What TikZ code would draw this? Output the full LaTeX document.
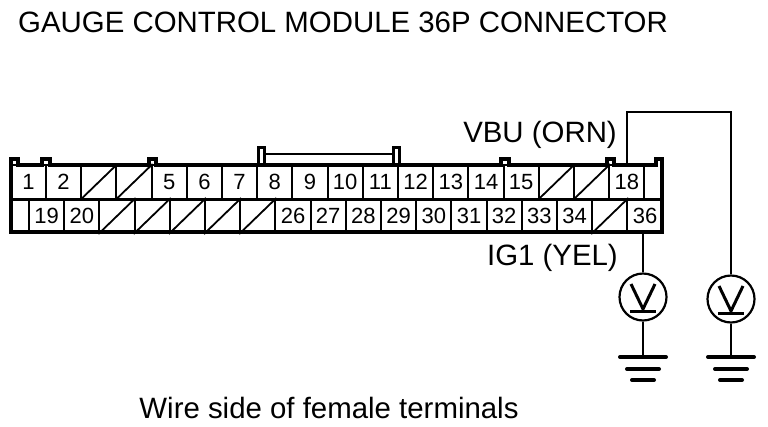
\documentclass[tikz,border=0pt]{standalone}
\usepackage{fontspec}
\setmainfont{Liberation Sans}
\usetikzlibrary{positioning,calc}
\tikzset{
  pinbox/.style={draw,line width=2pt,minimum width=35.2pt,minimum height=34pt,inner sep=0pt,font=\fontsize{22}{24}\selectfont},
  slash/.style={line width=1.8pt},
  shell/.style={line width=4pt},
  wire/.style={line width=2.2pt},
  meter/.style={draw,circle,line width=2.2pt,minimum size=47pt,inner sep=0pt},
  gndbar/.style={line width=4pt,line cap=round},
  caption/.style={inner sep=0pt,font=\fontsize{29.4}{32}\selectfont}
}
\begin{document}
\begin{tikzpicture}[x=1pt,y=-1pt]
    \useasboundingbox (0,0) rectangle (768,426);
    % Titles
    \node[caption,anchor=west] (title) at (18,22) {GAUGE CONTROL MODULE 36P CONNECTOR};
    \node[caption,anchor=east] (vbu) at (617,135) {VBU (ORN)};
    \node[caption,anchor=east] (igone) at (618,258) {IG1 (YEL)};
    \node[caption] (side) at (329,408) {Wire side of female terminals};
    % Upper row of pins
    \foreach \n in {1,2,5,6,7,8,9,10,11,12,13,14,15,18}
      \node[pinbox] (c\n) at ({28.4+35.2*(\n-1)},182) {\n};
    \foreach \n in {3,4,16,17}{
      \node[pinbox] (c\n) at ({28.4+35.2*(\n-1)},182) {};
      \draw[slash] (c\n.south west) -- (c\n.north east);
    }
    % Lower row of pins
    \foreach \n in {19,20,26,27,28,29,30,31,32,33,34,36}
      \node[pinbox] (c\n) at ({46.6+35.2*(\n-19)},216) {\n};
    \foreach \n in {21,22,23,24,25,35}{
      \node[pinbox] (c\n) at ({46.6+35.2*(\n-19)},216) {};
      \draw[slash] (c\n.south west) -- (c\n.north east);
    }
    % Connector shell with locks
    \draw[shell] (11,232) -- (11,159) -- (18,159) -- (18,165) -- (42,165) -- (42,159) -- (50,159) -- (50,165)
      -- (149,165) -- (149,159) -- (156,159) -- (156,165) -- (501,165) -- (501,159) -- (509,159) -- (509,165)
      -- (607,165) -- (607,159) -- (614,159) -- (614,165) -- (656,165) -- (656,159) -- (662,159) -- (662,232) -- cycle;
    \draw[line width=3pt] (10,199) -- (663,199);
    % Bracket on top
    \draw[line width=3pt] (258.5,165) -- (258.5,147.5) -- (264.5,147.5) -- (264.5,165);
    \draw[line width=3pt] (393,165) -- (393,147.5) -- (399.5,147.5) -- (399.5,165);
    \draw[line width=2.8pt] (264.5,154) -- (393,154);
    % Meters and wires
    \node[meter] (voltA) at (643,297) {};
    \node[meter] (voltB) at (731,299) {};
    \coordinate (turn) at (731,112);
    \coordinate (gndA) at (643,357);
    \coordinate (gndB) at (731,357);
    \draw[wire] (c18.north) |- (turn) -- (voltB.north);
    \draw[wire] (voltA.north) -- (voltA.north |- c36.south);
    \foreach \v/\g in {voltA/gndA,voltB/gndB}{
      \draw[wire] (\v.south) -- (\g);
      \draw[line width=3pt] ([shift={(-12,-13)}]\v.center) -- ([shift={(0,12)}]\v.center) -- ([shift={(12,-13)}]\v.center);
      \draw[line width=3pt] ([shift={(-13,14)}]\v.center) -- ([shift={(13,14)}]\v.center);
      % Ground bars
      \draw[gndbar] ([xshift=-23pt]\g) -- ([xshift=23pt]\g);
      \draw[gndbar] ([shift={(-16,12)}]\g) -- ([shift={(16,12)}]\g);
      \draw[gndbar] ([shift={(-11,23)}]\g) -- ([shift={(11,23)}]\g);
    }
  \end{tikzpicture}
\end{document}
